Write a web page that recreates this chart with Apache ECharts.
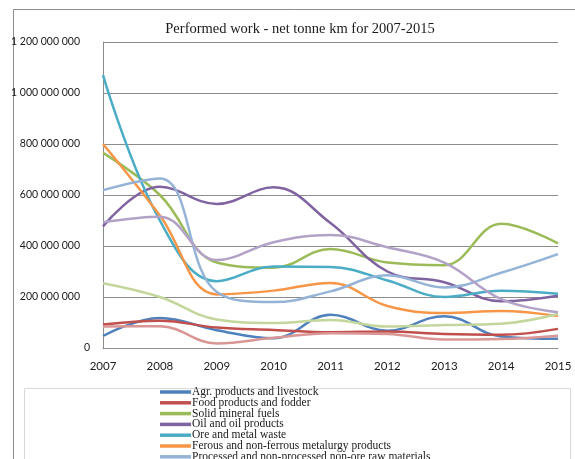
<!DOCTYPE html>
<html><head><meta charset="utf-8">
<script src="https://cdn.jsdelivr.net/npm/echarts@6/dist/echarts.min.js"></script>
<style>html,body{margin:0;padding:0;background:#fff}#c{width:575px;height:459px}</style>
</head><body><div id="c"></div>
<script>
var years = ['2007','2008','2009','2010','2011','2012','2013','2014','2015'];
var yTicks = [0, 200000000, 400000000, 600000000, 800000000, 1000000000, 1200000000];
var agr = [47000000, 118000000, 70000000, 38000000, 130000000, 68000000, 125000000, 45000000, 36000000];
var food = [92000000, 107000000, 80000000, 71000000, 62000000, 65000000, 55000000, 52000000, 75000000];
var solid = [765000000, 600000000, 335000000, 315000000, 388000000, 335000000, 325000000, 487000000, 410000000];
var oil = [477000000, 632000000, 565000000, 630000000, 490000000, 300000000, 258000000, 183000000, 205000000];
var ore = [1070000000, 500000000, 262000000, 320000000, 318000000, 265000000, 200000000, 225000000, 213000000];
var ferous = [800000000, 520000000, 210000000, 225000000, 255000000, 165000000, 137000000, 145000000, 125000000];
var processed = [619000000, 665000000, 220000000, 180000000, 222000000, 285000000, 237000000, 295000000, 368000000];
var other8 = [84000000, 85000000, 18000000, 40000000, 58000000, 55000000, 33000000, 35000000, 48000000];
var other9 = [254000000, 200000000, 112000000, 98000000, 110000000, 84000000, 90000000, 95000000, 133000000];
var other10 = [493000000, 515000000, 345000000, 415000000, 443000000, 395000000, 335000000, 192000000, 140000000];

var seriesDefs = [
  ['Agr. products and livestock', agr, '#4F81BD'],
  ['Food products and fodder', food, '#C0504D'],
  ['Solid mineral fuels', solid, '#9BBB59'],
  ['Oil and oil products', oil, '#8064A2'],
  ['Ore and metal waste', ore, '#4BACC6'],
  ['Ferous and non-ferrous metalurgy products', ferous, '#F79646'],
  ['Processed and non-processed non-ore raw materials', processed, '#95B3D7'],
  ['Series 8', other8, '#D99694'],
  ['Series 9', other9, '#C3D69B'],
  ['Series 10', other10, '#B3A2C7']
];
var legendNames = seriesDefs.slice(0, 7).map(function (d) { return d[0]; });

function fmt(v) {
  return String(v).replace(/\B(?=(\d{3})+(?!\d))/g, ' ');
}

var chart = echarts.init(document.getElementById('c'), null, {renderer: 'canvas'});
chart.setOption({
  animation: false,
  backgroundColor: '#fff',
  title: {
    text: 'Performed work - net tonne km for 2007-2015',
    left: 295, top: 17, textAlign: 'center',
    textStyle: {fontFamily: 'Liberation Serif', fontSize: 14.5, fontWeight: 'normal', color: '#1a1a1a'}
  },
  graphic: [
    {type: 'rect', left: 11, top: 7, shape: {width: 620, height: 520}, silent: true, z: -10,
     style: {fill: 'none', stroke: '#8c8c8c', lineWidth: 1}},
    {type: 'rect', left: 22, top: 386, shape: {width: 546, height: 120}, silent: true, z: -9,
     style: {fill: 'none', stroke: '#d9d9d9', lineWidth: 1}}
  ],
  grid: {left: 103, right: 17, top: 42, bottom: 111, containLabel: false},
  legend: {
    data: legendNames,
    orient: 'vertical', left: 155, top: 381, height: 140,
    itemWidth: 31, itemHeight: 3.5, itemGap: -1.2, icon: 'rect',
    textStyle: {fontFamily: 'Liberation Serif', fontSize: 11.5, lineHeight: 10.8, color: '#1a1a1a', padding: [0, 0, 0, -4]}
  },
  xAxis: {
    type: 'category', data: years, boundaryGap: false,
    axisLine: {lineStyle: {color: '#8c8c8c', width: 1}},
    axisTick: {show: false},
    axisLabel: {fontFamily: 'Lato', fontSize: 11.5, color: '#1a1a1a', margin: 12},
    splitLine: {show: false}
  },
  yAxis: {
    type: 'value', min: 0, max: 1200000000, interval: 200000000,
    axisLine: {show: true, lineStyle: {color: '#8c8c8c', width: 1}},
    axisTick: {show: false},
    axisLabel: {
      fontFamily: 'Lato', fontSize: 10.5, color: '#1a1a1a', margin: 13,
      formatter: function (v) { return v === 0 ? '0' : '{p|' + fmt(v) + '}'; },
      rich: {p: {fontFamily: 'Lato', fontSize: 10.5, color: '#1a1a1a', padding: [0, 10, 0, 0]}}
    },
    splitLine: {lineStyle: {color: '#8c8c8c', width: 1}}
  },
  series: seriesDefs.map(function (d) {
    return {
      name: d[0], type: 'line', data: d[1], smooth: 0.4,
      showSymbol: false, symbol: 'none',
      itemStyle: {color: d[2]},
      lineStyle: {color: d[2], width: 2.5}
    };
  })
});
</script>
</body></html>
